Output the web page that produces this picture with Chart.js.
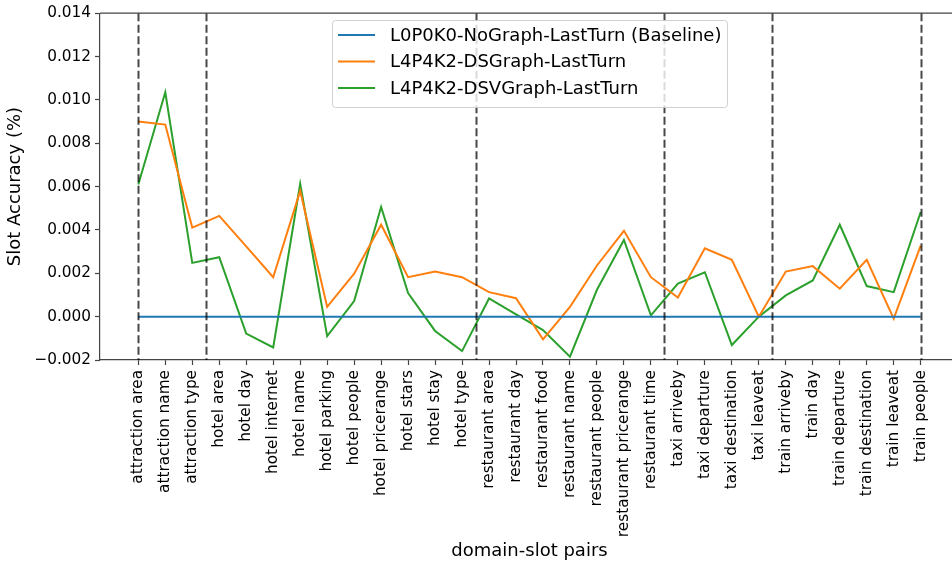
<!DOCTYPE html>
<html lang="en">
<head>
    <meta charset="UTF-8">
    <title>Slot Accuracy by domain-slot pair</title>
    <script src="https://cdn.jsdelivr.net/npm/chart.js@4.4.1/dist/chart.umd.min.js"></script>
    <style>
        body {
            margin: 0;
            padding: 0;
            background-color: #fff;
            overflow: hidden;
        }
        canvas {
            display: block;
        }
    </style>
</head>
<body>
    <canvas id="slotChart" width="965" height="566"></canvas>

    <script>
        // domain-slot pairs (x categories)
        const slotPairs = [
            'attraction area', 'attraction name', 'attraction type',
            'hotel area', 'hotel day', 'hotel internet', 'hotel name', 'hotel parking',
            'hotel people', 'hotel pricerange', 'hotel stars', 'hotel stay', 'hotel type',
            'restaurant area', 'restaurant day', 'restaurant food', 'restaurant name',
            'restaurant people', 'restaurant pricerange', 'restaurant time',
            'taxi arriveby', 'taxi departure', 'taxi destination', 'taxi leaveat',
            'train arriveby', 'train day', 'train departure', 'train destination',
            'train leaveat', 'train people'
        ];

        // series values (slot accuracy difference)
        const baseline = [
            0, 0, 0, 0, 0, 0, 0, 0, 0, 0, 0, 0, 0, 0, 0,
            0, 0, 0, 0, 0, 0, 0, 0, 0, 0, 0, 0, 0, 0, 0
        ];
        const dsGraph = [
            0.0090, 0.00886, 0.00411, 0.00465, 0.00324, 0.00182, 0.0058, 0.00045,
            0.00198, 0.00424, 0.00182, 0.00208, 0.00182, 0.00113, 0.00085,
            -0.00105, 0.00045, 0.00236, 0.00396, 0.00182,
            0.00088, 0.00315, 0.00262, 0.0,
            0.00208, 0.00233, 0.00129, 0.00262, -0.00009, 0.00328
        ];
        const dsvGraph = [
            0.0061, 0.01035, 0.00248, 0.00274, -0.00078, -0.00142, 0.00613, -0.0009,
            0.00072, 0.00506, 0.00109, -0.00066, -0.00159, 0.00084, 0.0001,
            -0.00062, -0.00185, 0.00124, 0.00354, 0.00006,
            0.00152, 0.00205, -0.00131, 0.0,
            0.00098, 0.00167, 0.00424, 0.00141, 0.00113, 0.00483
        ];

        // y tick values and domain separators (x positions in category units)
        const yTicks = [-0.002, 0, 0.002, 0.004, 0.006, 0.008, 0.010, 0.012, 0.014];
        const dividers = [0, 2.5, 12.5, 19.5, 23.5, 29];

        const fontFamily = "'DejaVu Sans', sans-serif";
        const tickFont = { family: fontFamily, size: 15.3 };
        const labelFont = { family: fontFamily, size: 18 };
        const spineColor = '#444';

        function toPoints(values) {
            return values.map((v, i) => ({ x: i, y: v }));
        }

        // dashed separators between domains + top/right spines
        const dividerPlugin = {
            id: 'dividers',
            afterDatasetsDraw(chart) {
                const { ctx, chartArea, scales } = chart;
                ctx.save();
                ctx.strokeStyle = 'rgba(0, 0, 0, 0.72)';
                ctx.lineWidth = 2;
                ctx.setLineDash([8, 3.5]);
                dividers.forEach(pos => {
                    const x = Math.round(scales.x.getPixelForValue(pos)) + 0.5;
                    ctx.beginPath();
                    ctx.moveTo(x, chartArea.top);
                    ctx.lineTo(x, chartArea.bottom);
                    ctx.stroke();
                });
                ctx.setLineDash([]);
                ctx.strokeStyle = spineColor;
                ctx.lineWidth = 1.2;
                ctx.beginPath();
                ctx.moveTo(chartArea.left, chartArea.top);
                ctx.lineTo(chartArea.right, chartArea.top);
                ctx.lineTo(chartArea.right, chartArea.bottom);
                ctx.stroke();
                ctx.restore();
            }
        };

        // matplotlib-like legend inside the plot
        const innerLegend = {
            id: 'innerLegend',
            afterDraw(chart) {
                const { ctx } = chart;
                const left = 332.5, top = 20.5, w = 395, h = 87;
                ctx.save();
                ctx.fillStyle = 'rgba(255, 255, 255, 0.8)';
                ctx.strokeStyle = 'rgba(204, 204, 204, 0.9)';
                ctx.lineWidth = 1;
                ctx.beginPath();
                ctx.roundRect(left, top, w, h, 3);
                ctx.fill();
                ctx.stroke();
                ctx.font = labelFont.size + 'px ' + fontFamily;
                ctx.textBaseline = 'middle';
                ctx.fillStyle = '#000';
                chart.data.datasets.forEach((ds, i) => {
                    const y = 35 + i * 26.5;
                    ctx.strokeStyle = ds.borderColor;
                    ctx.lineWidth = 2;
                    ctx.beginPath();
                    ctx.moveTo(338, y);
                    ctx.lineTo(375, y);
                    ctx.stroke();
                    ctx.fillText(ds.label, 390, y + 1);
                });
                ctx.restore();
            }
        };

        const ctx = document.getElementById('slotChart').getContext('2d');
        const slotChart = new Chart(ctx, {
            type: 'line',
            data: {
                datasets: [{
                    label: 'L0P0K0-NoGraph-LastTurn (Baseline)',
                    data: toPoints(baseline),
                    borderColor: '#1f77b4',
                    borderWidth: 2
                }, {
                    label: 'L4P4K2-DSGraph-LastTurn',
                    data: toPoints(dsGraph),
                    borderColor: '#ff7f0e',
                    borderWidth: 2
                }, {
                    label: 'L4P4K2-DSVGraph-LastTurn',
                    data: toPoints(dsvGraph),
                    borderColor: '#2ca02c',
                    borderWidth: 2
                }]
            },
            options: {
                responsive: false,
                animation: false,
                layout: { padding: { top: 11, right: 6, bottom: 0, left: 0 } },
                elements: {
                    point: { radius: 0 },
                    line: { tension: 0, borderJoinStyle: 'miter' }
                },
                plugins: {
                    legend: { display: false },
                    tooltip: { enabled: false }
                },
                scales: {
                    x: {
                        type: 'linear',
                        min: -1.42,
                        max: 30.42,
                        afterBuildTicks(scale) {
                            scale.ticks = slotPairs.map((_, i) => ({ value: i }));
                        },
                        afterFit(scale) {
                            scale.height = 206;
                        },
                        ticks: {
                            autoSkip: false,
                            minRotation: 90,
                            maxRotation: 90,
                            padding: 5,
                            color: '#000',
                            font: tickFont,
                            callback: (value) => slotPairs[value]
                        },
                        grid: {
                            drawOnChartArea: false,
                            tickLength: 5,
                            tickColor: spineColor,
                            tickWidth: 1.2
                        },
                        border: { color: spineColor, width: 1.2 },
                        title: {
                            display: true,
                            text: 'domain-slot pairs',
                            color: '#000',
                            font: labelFont,
                            padding: { top: 0, bottom: 4 }
                        }
                    },
                    y: {
                        min: -0.002,
                        max: 0.014,
                        afterBuildTicks(scale) {
                            scale.ticks = yTicks.map(v => ({ value: v }));
                        },
                        afterFit(scale) {
                            scale.width = 100;
                        },
                        ticks: {
                            color: '#000',
                            padding: 4,
                            font: tickFont,
                            callback: (value) => value.toFixed(3).replace('-', '\u2212')
                        },
                        grid: {
                            drawOnChartArea: false,
                            tickLength: 5,
                            tickColor: spineColor,
                            tickWidth: 1.2
                        },
                        border: { color: spineColor, width: 1.2 },
                        title: {
                            display: true,
                            text: 'Slot Accuracy (%)',
                            color: '#000',
                            font: labelFont,
                            padding: { top: 5, bottom: 0 }
                        }
                    }
                }
            },
            plugins: [dividerPlugin, innerLegend]
        });
    </script>
</body>
</html>
